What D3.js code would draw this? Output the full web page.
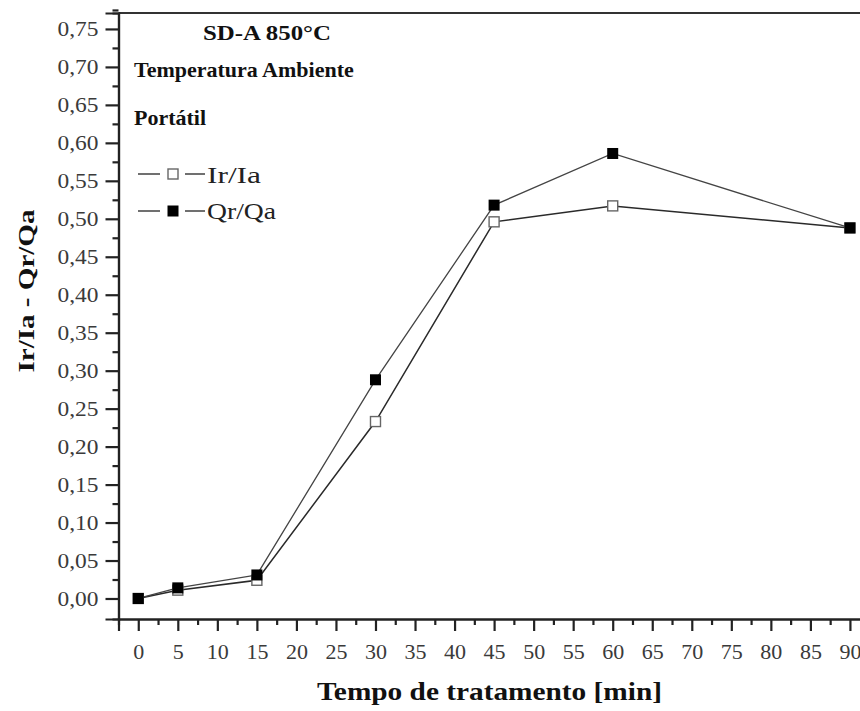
<!DOCTYPE html>
<html>
<head>
<meta charset="utf-8">
<script src="https://cdn.jsdelivr.net/npm/d3@7"></script>
<style>
  html, body { margin: 0; padding: 0; background: #fff; }
  svg { display: block; }
</style>
</head>
<body>
<svg id="chart" width="860" height="711"></svg>
<script>
// Treatment time (min) and measured ratios
const times = [0, 5, 15, 30, 45, 60, 90];
const irIa = [0.000, 0.011, 0.024, 0.233, 0.496, 0.517, 0.488];
const qrQa = [0.000, 0.014, 0.031, 0.288, 0.518, 0.586, 0.488];
const seriesNames = ["Ir/Ia", "Qr/Qa"];
const xTickValues = d3.range(0, 91, 5);
const yTickValues = d3.range(0, 16).map(i => i * 0.05);
const titleLines = ["SD-A 850°C", "Temperatura Ambiente", "Portátil"];
const xTitle = "Tempo de tratamento [min]";
const yTitle = "Ir/Ia - Qr/Qa";

const svg = d3.select("#chart");
const font = "'Liberation Serif', 'Times New Roman', serif";

const x = d3.scaleLinear().domain([-2.5, 92.5]).range([118.5, 869.7]);
const y = d3.scaleLinear().domain([-0.027, 0.771]).range([619, 13]);

const plotLeft = x.range()[0], plotRight = x.range()[1];
const plotTop = y.range()[1], plotBottom = y.range()[0];

// frame top line
svg.append("line")
  .attr("x1", plotLeft).attr("x2", plotRight)
  .attr("y1", plotTop).attr("y2", plotTop)
  .attr("stroke", "#333").attr("stroke-width", 2);

// minor ticks (half steps)
const xMinor = d3.range(2.5, 91, 5);
const yMinor = d3.range(0, 16).map(i => i * 0.05 + 0.025);

const xMinorAxis = svg.append("g").attr("transform", `translate(0,${plotBottom})`)
  .call(d3.axisBottom(x).tickValues(xMinor).tickSize(6).tickFormat(""));
const yMinorAxis = svg.append("g").attr("transform", `translate(${plotLeft},0)`)
  .call(d3.axisLeft(y).tickValues(yMinor).tickSize(6).tickFormat(""));

const xAxis = svg.append("g").attr("transform", `translate(0,${plotBottom})`)
  .call(d3.axisBottom(x).tickValues(xTickValues).tickSize(12).tickPadding(12)
    .tickFormat(d3.format("d")));
const yAxis = svg.append("g").attr("transform", `translate(${plotLeft},0)`)
  .call(d3.axisLeft(y).tickValues(yTickValues).tickSize(13).tickPadding(7)
    .tickFormat(d => d3.format(".2f")(d).replace(".", ",")));

[xMinorAxis, yMinorAxis, xAxis, yAxis].forEach(g => {
  g.attr("font-family", font);
  g.selectAll(".domain").attr("stroke", "#222").attr("stroke-width", 2.2);
  g.selectAll(".tick line").attr("stroke", "#222").attr("stroke-width", 2.2);
  g.selectAll(".tick text")
    .style("font-family", font).style("font-size", "22px").attr("fill", "#3a3a3a");
});
yAxis.selectAll(".tick text").attr("textLength", 41).attr("lengthAdjust", "spacingAndGlyphs");

// series lines
const line = d3.line().x(d => x(d[0])).y(d => y(d[1]));
const irPts = times.map((t, i) => [t, irIa[i]]);
const qrPts = times.map((t, i) => [t, qrQa[i]]);

svg.append("path").datum(irPts).attr("d", line)
  .attr("fill", "none").attr("stroke", "#2a2a2a").attr("stroke-width", 1.5);
svg.append("path").datum(qrPts).attr("d", line)
  .attr("fill", "none").attr("stroke", "#444").attr("stroke-width", 1.3);

const openSq = 10, fillSq = 11;
svg.append("g").selectAll("rect").data(irPts).join("rect")
  .attr("x", d => x(d[0]) - openSq / 2).attr("y", d => y(d[1]) - openSq / 2)
  .attr("width", openSq).attr("height", openSq)
  .attr("fill", "#fff").attr("stroke", "#666").attr("stroke-width", 1.4);
svg.append("g").selectAll("rect").data(qrPts).join("rect")
  .attr("x", d => x(d[0]) - fillSq / 2).attr("y", d => y(d[1]) - fillSq / 2)
  .attr("width", fillSq).attr("height", fillSq)
  .attr("fill", "#000");

// annotation text
const titleG = svg.append("g").attr("font-family", font).attr("font-weight", "bold")
  .attr("font-size", 22).attr("fill", "#111");
titleG.append("text").attr("x", 203).attr("y", 40)
  .attr("textLength", 128).attr("lengthAdjust", "spacingAndGlyphs").text(titleLines[0]);
titleG.append("text").attr("x", 134).attr("y", 77).text(titleLines[1]);
titleG.append("text").attr("x", 134).attr("y", 125).text(titleLines[2]);

// legend
const legend = svg.append("g");
const legendRows = [
  { name: seriesNames[0], y: 174, base: 183, open: true, len: 54 },
  { name: seriesNames[1], y: 211, base: 219, open: false, len: 69 }
];
legendRows.forEach(r => {
  legend.append("line").attr("x1", 138).attr("x2", 160)
    .attr("y1", r.y).attr("y2", r.y)
    .attr("stroke", "#333").attr("stroke-width", 1.4);
  legend.append("line").attr("x1", 185).attr("x2", 205)
    .attr("y1", r.y).attr("y2", r.y)
    .attr("stroke", "#333").attr("stroke-width", 1.4);
  const s = r.open ? openSq : fillSq;
  legend.append("rect").attr("x", 173 - s / 2).attr("y", r.y - s / 2)
    .attr("width", s).attr("height", s)
    .attr("fill", r.open ? "#fff" : "#000")
    .attr("stroke", r.open ? "#666" : "none").attr("stroke-width", 1.4);
  legend.append("text").attr("x", 207).attr("y", r.base)
    .attr("font-family", font).attr("font-size", 24).attr("fill", "#222")
    .attr("textLength", r.len).attr("lengthAdjust", "spacingAndGlyphs")
    .text(r.name);
});

// axis titles
svg.append("text")
  .attr("x", 489.5).attr("y", 700)
  .attr("text-anchor", "middle")
  .attr("font-family", font).attr("font-weight", "bold").attr("font-size", 26)
  .attr("textLength", 345).attr("lengthAdjust", "spacingAndGlyphs")
  .attr("fill", "#111")
  .text(xTitle);

svg.append("text")
  .attr("transform", `translate(34,291) rotate(-90)`)
  .attr("text-anchor", "middle")
  .attr("font-family", font).attr("font-weight", "bold").attr("font-size", 23)
  .attr("textLength", 163).attr("lengthAdjust", "spacingAndGlyphs")
  .attr("fill", "#111")
  .text(yTitle);
</script>
</body>
</html>
